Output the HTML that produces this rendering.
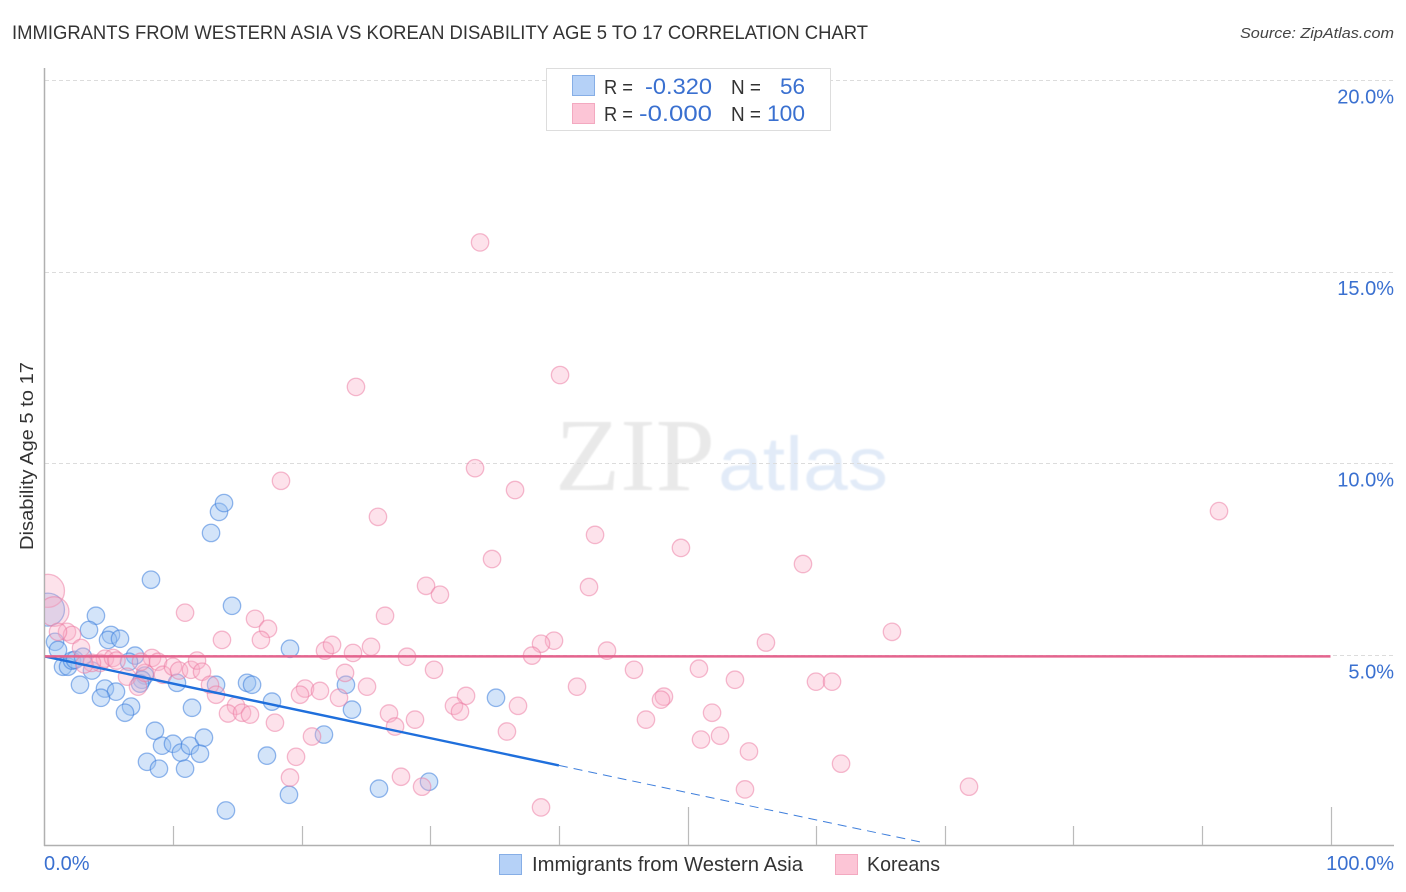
<!DOCTYPE html>
<html lang="en">
<head>
<meta charset="utf-8">
<title>Immigrants from Western Asia vs Korean Disability Age 5 to 17 Correlation Chart</title>
<style>
html,body{margin:0;padding:0;background:#fff;width:1406px;height:892px;overflow:hidden}
svg{display:block;font-family:"Liberation Sans",Arial,sans-serif}
</style>
</head>
<body>
<svg id="chart" xmlns="http://www.w3.org/2000/svg" width="1406" height="892" viewBox="0 0 1406 892">
  <defs>
    <clipPath id="plot-clip"><rect x="45" y="68" width="1349" height="777"/></clipPath>
    <filter id="soft" x="-5%" y="-5%" width="110%" height="110%"><feGaussianBlur stdDeviation="0.7"/></filter>
  </defs>
  <rect x="0" y="0" width="1406" height="892" fill="#ffffff"/>

  <text x="12" y="39" font-size="19" fill="#333333" textLength="856" lengthAdjust="spacingAndGlyphs">IMMIGRANTS FROM WESTERN ASIA VS KOREAN DISABILITY AGE 5 TO 17 CORRELATION CHART</text>
  <text x="1394" y="38" font-size="15" font-style="italic" fill="#444444" text-anchor="end" textLength="154" lengthAdjust="spacingAndGlyphs">Source: ZipAtlas.com</text>

  <g filter="url(#soft)">
    <text x="555" y="490" font-family="'Liberation Serif',serif" font-size="104" fill="#e9e9e9" textLength="160" lengthAdjust="spacingAndGlyphs">ZIP</text>
    <text x="718" y="490" font-size="76" fill="#e2ebf8" textLength="170" lengthAdjust="spacingAndGlyphs">atlas</text>
  </g>

  <g id="grid-layer"></g>
  <g id="axis-layer"></g>
  <g id="tick-layer"></g>
  <g id="ylabel-layer"></g>
  <g id="xlabel-layer"></g>

  <g clip-path="url(#plot-clip)">
    <g id="blue-points"></g>
    <g id="pink-points"></g>
    <g id="trend-lines"></g>
  </g>

  <text transform="translate(33,456) rotate(-90)" font-size="18.5" fill="#333333" text-anchor="middle" textLength="188" lengthAdjust="spacingAndGlyphs">Disability Age 5 to 17</text>

  <g>
    <rect x="546.5" y="68.5" width="284" height="62" fill="#ffffff" stroke="#dddddd" stroke-width="1"/>
    <rect x="572.5" y="75.5" width="22" height="20" fill="#b5d1f7" stroke="#86aee6" stroke-width="1"/>
    <rect x="572.5" y="103.5" width="22" height="20" fill="#fcc5d6" stroke="#f3a9c0" stroke-width="1"/>
    <text x="604" y="94" font-size="20" fill="#333333" textLength="29" lengthAdjust="spacingAndGlyphs">R =</text>
    <text x="712" y="94" font-size="22" fill="#3a70d0" text-anchor="end" textLength="67" lengthAdjust="spacingAndGlyphs">-0.320</text>
    <text x="731" y="94" font-size="20" fill="#333333" textLength="30" lengthAdjust="spacingAndGlyphs">N =</text>
    <text x="805" y="94" font-size="22" fill="#3a70d0" text-anchor="end" textLength="25" lengthAdjust="spacingAndGlyphs">56</text>
    <text x="604" y="121" font-size="20" fill="#333333" textLength="29" lengthAdjust="spacingAndGlyphs">R =</text>
    <text x="712" y="121" font-size="22" fill="#3a70d0" text-anchor="end" textLength="73" lengthAdjust="spacingAndGlyphs">-0.000</text>
    <text x="731" y="121" font-size="20" fill="#333333" textLength="30" lengthAdjust="spacingAndGlyphs">N =</text>
    <text x="805" y="121" font-size="22" fill="#3a70d0" text-anchor="end" textLength="38" lengthAdjust="spacingAndGlyphs">100</text>
  </g>

  <g>
    <g>
      <rect x="499.5" y="854.5" width="22" height="20" fill="#b5d1f7" stroke="#86aee6" stroke-width="1"/>
      <text x="532" y="871" font-size="20" fill="#333333" textLength="271" lengthAdjust="spacingAndGlyphs">Immigrants from Western Asia</text>
    </g>
    <g>
      <rect x="835.5" y="854.5" width="22" height="20" fill="#fcc5d6" stroke="#f3a9c0" stroke-width="1"/>
      <text x="867" y="871" font-size="20" fill="#333333" textLength="73" lengthAdjust="spacingAndGlyphs">Koreans</text>
    </g>
  </g>
</svg>

<script>
// Axis values
const yTickValues = [5, 10, 15, 20];
const yTickLabels = ["5.0%", "10.0%", "15.0%", "20.0%"];
const xTickValues = [10, 20, 30, 40, 50, 60, 70, 80, 90, 100];
const xMajorTicks = [50, 100];
const xEndValues = [0, 100];
const xEndLabels = ["0.0%", "100.0%"];

// Immigrants from Western Asia: x share (%), disability rate (%)
const blueX = [8.28,14.58,4.00,3.46,5.17,4.94,5.87,0.82,1.05,1.44,1.83,2.14,2.37,2.99,3.69,2.76,4.70,5.56,4.39,6.73,6.26,7.04,6.57,7.81,7.58,7.43,10.30,13.34,15.75,16.14,19.09,17.69,11.47,8.59,9.14,9.99,10.61,11.31,12.40,12.09,7.97,8.90,10.93,17.30,19.01,14.11,21.73,12.95,13.57,13.96,23.44,23.91,35.11,26.01,29.90];
const blueY = [6.96,6.28,6.02,5.65,5.52,5.39,5.42,5.34,5.13,4.69,4.69,4.85,4.87,4.95,4.59,4.22,4.12,4.04,3.88,3.65,3.49,4.98,4.82,4.46,4.35,4.25,4.27,4.22,4.27,4.22,5.16,3.78,3.62,3.02,2.63,2.68,2.45,2.63,2.84,2.42,2.21,2.03,2.03,2.37,1.35,0.94,2.92,8.18,8.73,8.96,4.22,3.57,3.88,1.51,1.69];
const blueLargeX = [0.27];
const blueLargeY = [6.18];
const blueLargeWeight = [3.6];

// Koreans: x share (%), disability rate (%)
const pinkX = [10.93,16.37,17.38,16.83,13.80,1.75,2.14,2.84,21.81,22.36,1.05,4.32,4.70,5.33,3.69,6.42,7.27,7.81,8.36,8.83,9.21,9.99,10.46,11.39,11.86,12.25,12.87,13.34,14.89,14.27,15.36,15.98,17.92,20.26,19.87,21.42,20.80,19.56,19.09,33.87,40.09,24.22,33.48,18.39,36.59,25.93,91.33,42.81,49.49,34.80,58.98,29.67,42.34,30.75,26.48,65.90,56.10,39.62,38.61,25.39,23.99,43.74,28.19,37.91,50.89,45.84,30.29,23.37,25.08,41.41,53.69,59.99,61.24,32.78,48.17,47.94,31.84,32.31,36.82,26.79,28.81,51.91,46.77,27.26,35.96,52.53,51.05,54.78,61.94,27.72,29.36,54.47,71.89,38.61,22.90,5.60,7.50,3.10];
const pinkY = [6.10,5.94,5.68,5.39,5.39,5.60,5.52,5.18,5.11,5.26,5.60,4.79,4.90,4.92,4.79,4.43,4.17,4.53,4.92,4.82,4.48,4.69,4.59,4.61,4.85,4.56,4.22,3.96,3.67,3.47,3.49,3.44,3.23,4.12,3.96,4.06,2.87,2.34,1.80,15.76,12.30,11.99,9.87,9.54,9.30,8.60,8.75,8.13,7.79,7.50,7.37,6.80,6.77,6.57,6.02,5.60,5.32,5.37,5.29,5.21,5.05,5.11,4.95,4.98,4.64,4.61,4.61,4.53,4.17,4.17,4.35,4.30,4.30,3.93,3.91,3.83,3.67,3.52,3.67,3.47,3.31,3.49,3.31,3.13,3.00,2.89,2.79,2.48,2.16,1.82,1.56,1.49,1.56,1.02,3.88,4.85,4.82,4.75];
const pinkLargeX = [0.27, 0.75];
const pinkLargeY = [6.67, 6.13];
const pinkLargeWeight = [3.6, 2.9];

// Fitted trends
const blueTrendIntercept = 4.96;
const blueTrendSlope = -0.0711;
const blueTrendSolidEnd = 40;
const blueTrendDashEnd = 68.1;
const pinkTrendIntercept = 4.96;
const pinkTrendSlope = 0;
const pinkTrendEnd = 100;

// Axis functions
function xScale(v) { return 44.5 + v * 12.86; }
function yScale(v) { return 846.5 - v * 38.33; }
function radius(weight) { return 8.7 * Math.sqrt(weight); }

const NS = 'http://www.w3.org/2000/svg';
function make(tag, attrs, parent) {
  const el = document.createElementNS(NS, tag);
  for (const k in attrs) el.setAttribute(k, attrs[k]);
  parent.appendChild(el);
  return el;
}

const gridLayer = document.getElementById('grid-layer');
const axisLayer = document.getElementById('axis-layer');
const tickLayer = document.getElementById('tick-layer');
const yLabelLayer = document.getElementById('ylabel-layer');
const xLabelLayer = document.getElementById('xlabel-layer');
const bluePoints = document.getElementById('blue-points');
const pinkPoints = document.getElementById('pink-points');
const trendLines = document.getElementById('trend-lines');

yTickValues.forEach(function (v, i) {
  const y = Math.round(yScale(v)) + 0.5;
  const line = make('line', { x1: 45, x2: 1394, y1: y, y2: y, stroke: '#dcdcdc', 'stroke-width': 1, 'stroke-dasharray': '4 3' }, gridLayer);
  
  
  const label = make('text', { x: 1394, y: yScale(v) + 23.5, 'font-size': 20, fill: '#3a70d0', 'text-anchor': 'end' }, yLabelLayer);
  label.textContent = yTickLabels[i];
  
  
});

const yAxisLine = make('line', { x1: 44.5, x2: 44.5, y1: 68, y2: 846, stroke: '#b0b0b0', 'stroke-width': 1.5 }, axisLayer);


const xAxisLine = make('line', { x1: 44, x2: 1394, y1: 845.5, y2: 845.5, stroke: '#b0b0b0', 'stroke-width': 1.5 }, axisLayer);



xTickValues.forEach(function (v) {
  const tall = xMajorTicks.indexOf(v) !== -1;
  const x = Math.round(xScale(v)) + 0.5;
  const tick = make('line', { x1: x, x2: x, y1: tall ? 807 : 826, y2: 845, stroke: '#bbbbbb', 'stroke-width': 1.2 }, tickLayer);
  
  
});

xEndValues.forEach(function (v, i) {
  const label = make('text', { x: i === 0 ? 44 : 1394, y: 870, 'font-size': 20, fill: '#3a70d0', 'text-anchor': i === 0 ? 'start' : 'end' }, xLabelLayer);
  label.textContent = xEndLabels[i];
  
  
});

function drawPoint(x, y, weight, parent, fill, stroke, name) {
  const c = make('circle', { cx: xScale(x), cy: yScale(y), r: radius(weight), fill: fill, stroke: stroke, 'stroke-width': 1.3 }, parent);
  
  
}

const blueFill = 'rgba(150,190,240,0.42)';
const blueStroke = 'rgba(60,125,220,0.55)';
const pinkFill = 'rgba(250,175,200,0.36)';
const pinkStroke = 'rgba(235,120,160,0.5)';

blueLargeX.forEach(function (x, i) { drawPoint(x, blueLargeY[i], blueLargeWeight[i], bluePoints, blueFill, blueStroke, 'immigrants-point-large'); });
blueX.forEach(function (x, i) { drawPoint(x, blueY[i], 1, bluePoints, blueFill, blueStroke, 'immigrants-point'); });
pinkLargeX.forEach(function (x, i) { drawPoint(x, pinkLargeY[i], pinkLargeWeight[i], pinkPoints, pinkFill, pinkStroke, 'koreans-point-large'); });
pinkX.forEach(function (x, i) { drawPoint(x, pinkY[i], 1, pinkPoints, pinkFill, pinkStroke, 'koreans-point'); });

function blueTrend(x) { return blueTrendIntercept + blueTrendSlope * x; }
function pinkTrend(x) { return pinkTrendIntercept + pinkTrendSlope * x; }

const blueDash = make('line', { x1: xScale(blueTrendSolidEnd), y1: yScale(blueTrend(blueTrendSolidEnd)), x2: xScale(blueTrendDashEnd), y2: yScale(blueTrend(blueTrendDashEnd)), stroke: '#3f7fdc', 'stroke-width': 1, 'stroke-dasharray': '9 6' }, trendLines);


const blueSolid = make('line', { x1: xScale(0), y1: yScale(blueTrend(0)), x2: xScale(blueTrendSolidEnd), y2: yScale(blueTrend(blueTrendSolidEnd)), stroke: '#1f6fdc', 'stroke-width': 2.4 }, trendLines);


const pinkSolid = make('line', { x1: xScale(0), y1: yScale(pinkTrend(0)), x2: xScale(pinkTrendEnd), y2: yScale(pinkTrend(pinkTrendEnd)), stroke: '#e4648e', 'stroke-width': 2.4 }, trendLines);


</script>
</body>
</html>
